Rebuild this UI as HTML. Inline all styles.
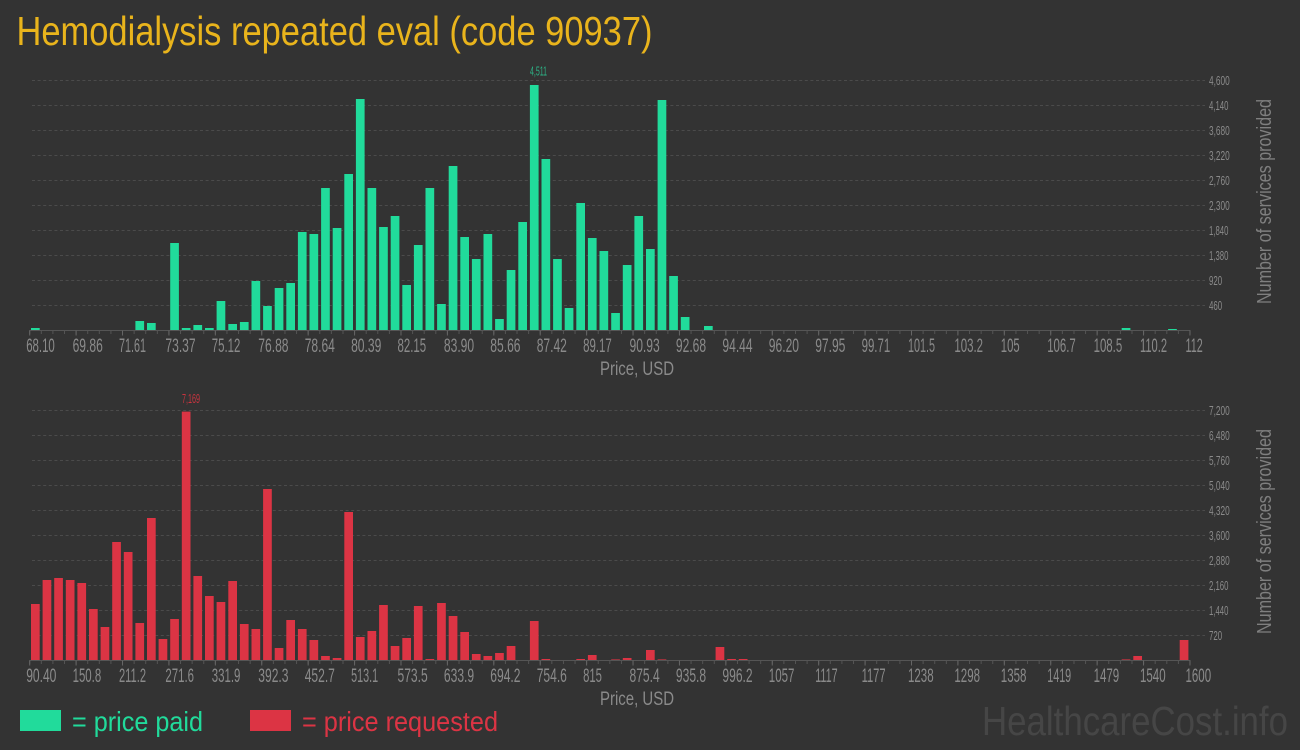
<!DOCTYPE html>
<html><head><meta charset="utf-8"><style>
html,body{margin:0;padding:0;background:#333333;}
svg{display:block;}
text{font-family:"Liberation Sans Narrow","Liberation Sans",sans-serif;}
</style></head><body>
<svg width="1300" height="750" viewBox="0 0 1300 750" xmlns="http://www.w3.org/2000/svg">
<rect width="1300" height="750" fill="#333333"/>
<text x="16.5" y="45" font-size="41" fill="#e9b41c" textLength="636" lengthAdjust="spacingAndGlyphs">Hemodialysis repeated eval (code 90937)</text>

<!-- ===== TOP CHART ===== -->
<g stroke="#4b4b4b" stroke-width="1" stroke-dasharray="3 2.6">
<line x1="32" y1="80.5" x2="1205" y2="80.5"/>
<line x1="32" y1="105.5" x2="1205" y2="105.5"/>
<line x1="32" y1="130.5" x2="1205" y2="130.5"/>
<line x1="32" y1="155.5" x2="1205" y2="155.5"/>
<line x1="32" y1="180.5" x2="1205" y2="180.5"/>
<line x1="32" y1="205.5" x2="1205" y2="205.5"/>
<line x1="32" y1="230.5" x2="1205" y2="230.5"/>
<line x1="32" y1="255.5" x2="1205" y2="255.5"/>
<line x1="32" y1="280.5" x2="1205" y2="280.5"/>
<line x1="32" y1="305.5" x2="1205" y2="305.5"/>
</g>
<g fill="#21db9b">
<rect x="31.0" y="328.0" width="8.7" height="2.3"/>
<rect x="135.4" y="321.0" width="8.7" height="9.3"/>
<rect x="147.0" y="323.0" width="8.7" height="7.3"/>
<rect x="170.2" y="243.0" width="8.7" height="87.3"/>
<rect x="181.8" y="328.0" width="8.7" height="2.3"/>
<rect x="193.4" y="325.0" width="8.7" height="5.3"/>
<rect x="205.0" y="328.0" width="8.7" height="2.3"/>
<rect x="216.6" y="301.0" width="8.7" height="29.3"/>
<rect x="228.3" y="324.0" width="8.7" height="6.3"/>
<rect x="239.9" y="322.0" width="8.7" height="8.3"/>
<rect x="251.5" y="281.0" width="8.7" height="49.3"/>
<rect x="263.1" y="306.0" width="8.7" height="24.3"/>
<rect x="274.7" y="288.0" width="8.7" height="42.3"/>
<rect x="286.3" y="283.0" width="8.7" height="47.3"/>
<rect x="297.9" y="232.0" width="8.7" height="98.3"/>
<rect x="309.5" y="234.0" width="8.7" height="96.3"/>
<rect x="321.1" y="188.0" width="8.7" height="142.3"/>
<rect x="332.7" y="228.0" width="8.7" height="102.3"/>
<rect x="344.3" y="174.0" width="8.7" height="156.3"/>
<rect x="355.9" y="99.0" width="8.7" height="231.3"/>
<rect x="367.5" y="188.0" width="8.7" height="142.3"/>
<rect x="379.1" y="227.0" width="8.7" height="103.3"/>
<rect x="390.7" y="216.0" width="8.7" height="114.3"/>
<rect x="402.3" y="285.0" width="8.7" height="45.3"/>
<rect x="413.9" y="245.0" width="8.7" height="85.3"/>
<rect x="425.5" y="188.0" width="8.7" height="142.3"/>
<rect x="437.1" y="304.0" width="8.7" height="26.3"/>
<rect x="448.7" y="166.0" width="8.7" height="164.3"/>
<rect x="460.3" y="237.0" width="8.7" height="93.3"/>
<rect x="471.9" y="259.0" width="8.7" height="71.3"/>
<rect x="483.5" y="234.0" width="8.7" height="96.3"/>
<rect x="495.1" y="319.0" width="8.7" height="11.3"/>
<rect x="506.7" y="270.0" width="8.7" height="60.3"/>
<rect x="518.3" y="222.0" width="8.7" height="108.3"/>
<rect x="529.9" y="85.0" width="8.7" height="245.3"/>
<rect x="541.5" y="159.0" width="8.7" height="171.3"/>
<rect x="553.1" y="259.0" width="8.7" height="71.3"/>
<rect x="564.7" y="308.0" width="8.7" height="22.3"/>
<rect x="576.3" y="203.0" width="8.7" height="127.3"/>
<rect x="587.9" y="238.0" width="8.7" height="92.3"/>
<rect x="599.5" y="251.0" width="8.7" height="79.3"/>
<rect x="611.2" y="313.0" width="8.7" height="17.3"/>
<rect x="622.8" y="265.0" width="8.7" height="65.3"/>
<rect x="634.4" y="216.0" width="8.7" height="114.3"/>
<rect x="646.0" y="249.0" width="8.7" height="81.3"/>
<rect x="657.6" y="100.0" width="8.7" height="230.3"/>
<rect x="669.2" y="276.0" width="8.7" height="54.3"/>
<rect x="680.8" y="317.0" width="8.7" height="13.3"/>
<rect x="704.0" y="326.0" width="8.7" height="4.3"/>
<rect x="1121.7" y="328.0" width="8.7" height="2.3"/>
<rect x="1168.1" y="329.0" width="8.7" height="1.3"/>
</g>
<text x="538.5" y="75.7" font-size="12.5" fill="#2cb386" text-anchor="middle" textLength="17" lengthAdjust="spacingAndGlyphs">4,511</text>
<line x1="29.2" y1="330.5" x2="1190.5" y2="330.5" stroke="#555" stroke-width="1"/>
<line x1="29.2" y1="332.5" x2="1191" y2="332.5" stroke="#555" stroke-width="3" stroke-dasharray="1 10.603"/>
<line x1="29.2" y1="333" x2="1191" y2="333" stroke="#666" stroke-width="5" stroke-dasharray="1 45.41"/>
<g font-size="19" fill="#8a8a8a" lengthAdjust="spacingAndGlyphs">
<text x="26.2" y="352" textLength="28.6" lengthAdjust="spacingAndGlyphs">68.10</text>
<text x="72.6" y="352" textLength="30.2" lengthAdjust="spacingAndGlyphs">69.86</text>
<text x="119.0" y="352" textLength="27" lengthAdjust="spacingAndGlyphs">71.61</text>
<text x="165.4" y="352" textLength="30.2" lengthAdjust="spacingAndGlyphs">73.37</text>
<text x="211.8" y="352" textLength="28.6" lengthAdjust="spacingAndGlyphs">75.12</text>
<text x="258.3" y="352" textLength="30.2" lengthAdjust="spacingAndGlyphs">76.88</text>
<text x="304.7" y="352" textLength="30.2" lengthAdjust="spacingAndGlyphs">78.64</text>
<text x="351.1" y="352" textLength="30.2" lengthAdjust="spacingAndGlyphs">80.39</text>
<text x="397.5" y="352" textLength="28.6" lengthAdjust="spacingAndGlyphs">82.15</text>
<text x="443.9" y="352" textLength="30.2" lengthAdjust="spacingAndGlyphs">83.90</text>
<text x="490.3" y="352" textLength="30.2" lengthAdjust="spacingAndGlyphs">85.66</text>
<text x="536.7" y="352" textLength="30.2" lengthAdjust="spacingAndGlyphs">87.42</text>
<text x="583.1" y="352" textLength="28.6" lengthAdjust="spacingAndGlyphs">89.17</text>
<text x="629.5" y="352" textLength="30.2" lengthAdjust="spacingAndGlyphs">90.93</text>
<text x="675.9" y="352" textLength="30.2" lengthAdjust="spacingAndGlyphs">92.68</text>
<text x="722.4" y="352" textLength="30.2" lengthAdjust="spacingAndGlyphs">94.44</text>
<text x="768.8" y="352" textLength="30.2" lengthAdjust="spacingAndGlyphs">96.20</text>
<text x="815.2" y="352" textLength="30.2" lengthAdjust="spacingAndGlyphs">97.95</text>
<text x="861.6" y="352" textLength="28.6" lengthAdjust="spacingAndGlyphs">99.71</text>
<text x="908.0" y="352" textLength="27" lengthAdjust="spacingAndGlyphs">101.5</text>
<text x="954.4" y="352" textLength="28.6" lengthAdjust="spacingAndGlyphs">103.2</text>
<text x="1000.8" y="352" textLength="18.8" lengthAdjust="spacingAndGlyphs">105</text>
<text x="1047.2" y="352" textLength="28.6" lengthAdjust="spacingAndGlyphs">106.7</text>
<text x="1093.6" y="352" textLength="28.6" lengthAdjust="spacingAndGlyphs">108.5</text>
<text x="1140.0" y="352" textLength="27" lengthAdjust="spacingAndGlyphs">110.2</text>
<text x="1185.5" y="352" textLength="17.2" lengthAdjust="spacingAndGlyphs">112</text>
</g>
<g font-size="12.5" fill="#8a8a8a">
<text x="1209" y="85" textLength="20.7" lengthAdjust="spacingAndGlyphs">4,600</text>
<text x="1209" y="110" textLength="19.4" lengthAdjust="spacingAndGlyphs">4,140</text>
<text x="1209" y="135" textLength="20.7" lengthAdjust="spacingAndGlyphs">3,680</text>
<text x="1209" y="160" textLength="20.7" lengthAdjust="spacingAndGlyphs">3,220</text>
<text x="1209" y="185" textLength="20.7" lengthAdjust="spacingAndGlyphs">2,760</text>
<text x="1209" y="210" textLength="20.7" lengthAdjust="spacingAndGlyphs">2,300</text>
<text x="1209" y="235" textLength="19.4" lengthAdjust="spacingAndGlyphs">1,840</text>
<text x="1209" y="260" textLength="19.4" lengthAdjust="spacingAndGlyphs">1,380</text>
<text x="1209" y="285" textLength="13.2" lengthAdjust="spacingAndGlyphs">920</text>
<text x="1209" y="310" textLength="13.2" lengthAdjust="spacingAndGlyphs">460</text>
</g>
<text x="600" y="375" font-size="19.5" fill="#8a8a8a" textLength="74" lengthAdjust="spacingAndGlyphs">Price, USD</text>
<text transform="translate(1271,201.5) rotate(-90)" x="0" y="0" font-size="20" fill="#7f7f7f" text-anchor="middle" textLength="205" lengthAdjust="spacingAndGlyphs">Number of services provided</text>

<!-- ===== BOTTOM CHART ===== -->
<g stroke="#4b4b4b" stroke-width="1" stroke-dasharray="3 2.6">
<line x1="32" y1="410.5" x2="1205" y2="410.5"/>
<line x1="32" y1="435.5" x2="1205" y2="435.5"/>
<line x1="32" y1="460.5" x2="1205" y2="460.5"/>
<line x1="32" y1="485.5" x2="1205" y2="485.5"/>
<line x1="32" y1="510.5" x2="1205" y2="510.5"/>
<line x1="32" y1="535.5" x2="1205" y2="535.5"/>
<line x1="32" y1="560.5" x2="1205" y2="560.5"/>
<line x1="32" y1="585.5" x2="1205" y2="585.5"/>
<line x1="32" y1="610.5" x2="1205" y2="610.5"/>
<line x1="32" y1="635.5" x2="1205" y2="635.5"/>
</g>
<g fill="#dc3444">
<rect x="31.0" y="604.0" width="8.7" height="56.3"/>
<rect x="42.6" y="580.0" width="8.7" height="80.3"/>
<rect x="54.2" y="578.0" width="8.7" height="82.3"/>
<rect x="65.8" y="580.0" width="8.7" height="80.3"/>
<rect x="77.4" y="583.0" width="8.7" height="77.3"/>
<rect x="89.0" y="609.0" width="8.7" height="51.3"/>
<rect x="100.6" y="627.0" width="8.7" height="33.3"/>
<rect x="112.2" y="542.0" width="8.7" height="118.3"/>
<rect x="123.8" y="552.0" width="8.7" height="108.3"/>
<rect x="135.4" y="623.0" width="8.7" height="37.3"/>
<rect x="147.0" y="518.0" width="8.7" height="142.3"/>
<rect x="158.6" y="639.0" width="8.7" height="21.3"/>
<rect x="170.2" y="619.0" width="8.7" height="41.3"/>
<rect x="181.8" y="411.6" width="8.7" height="248.7"/>
<rect x="193.4" y="576.0" width="8.7" height="84.3"/>
<rect x="205.0" y="596.0" width="8.7" height="64.3"/>
<rect x="216.6" y="602.0" width="8.7" height="58.3"/>
<rect x="228.3" y="581.0" width="8.7" height="79.3"/>
<rect x="239.9" y="624.0" width="8.7" height="36.3"/>
<rect x="251.5" y="629.0" width="8.7" height="31.3"/>
<rect x="263.1" y="489.0" width="8.7" height="171.3"/>
<rect x="274.7" y="648.0" width="8.7" height="12.3"/>
<rect x="286.3" y="620.0" width="8.7" height="40.3"/>
<rect x="297.9" y="629.0" width="8.7" height="31.3"/>
<rect x="309.5" y="640.0" width="8.7" height="20.3"/>
<rect x="321.1" y="656.0" width="8.7" height="4.3"/>
<rect x="332.7" y="658.0" width="8.7" height="2.3"/>
<rect x="344.3" y="512.0" width="8.7" height="148.3"/>
<rect x="355.9" y="637.0" width="8.7" height="23.3"/>
<rect x="367.5" y="631.0" width="8.7" height="29.3"/>
<rect x="379.1" y="605.0" width="8.7" height="55.3"/>
<rect x="390.7" y="646.0" width="8.7" height="14.3"/>
<rect x="402.3" y="638.0" width="8.7" height="22.3"/>
<rect x="413.9" y="606.0" width="8.7" height="54.3"/>
<rect x="425.5" y="659.0" width="8.7" height="1.3"/>
<rect x="437.1" y="603.0" width="8.7" height="57.3"/>
<rect x="448.7" y="616.0" width="8.7" height="44.3"/>
<rect x="460.3" y="632.0" width="8.7" height="28.3"/>
<rect x="471.9" y="654.0" width="8.7" height="6.3"/>
<rect x="483.5" y="656.0" width="8.7" height="4.3"/>
<rect x="495.1" y="653.0" width="8.7" height="7.3"/>
<rect x="506.7" y="646.0" width="8.7" height="14.3"/>
<rect x="529.9" y="621.0" width="8.7" height="39.3"/>
<rect x="541.5" y="659.0" width="8.7" height="1.3"/>
<rect x="576.3" y="659.0" width="8.7" height="1.3"/>
<rect x="587.9" y="655.0" width="8.7" height="5.3"/>
<rect x="611.2" y="659.4" width="8.7" height="0.9"/>
<rect x="622.8" y="658.0" width="8.7" height="2.3"/>
<rect x="646.0" y="650.0" width="8.7" height="10.3"/>
<rect x="657.6" y="659.4" width="8.7" height="0.9"/>
<rect x="715.6" y="647.0" width="8.7" height="13.3"/>
<rect x="727.2" y="659.0" width="8.7" height="1.3"/>
<rect x="738.8" y="659.0" width="8.7" height="1.3"/>
<rect x="1121.7" y="659.4" width="8.7" height="0.9"/>
<rect x="1133.3" y="656.0" width="8.7" height="4.3"/>
<rect x="1179.7" y="640.0" width="8.7" height="20.3"/>
</g>
<text x="191" y="403" font-size="12.5" fill="#c8343f" text-anchor="middle" textLength="18" lengthAdjust="spacingAndGlyphs">7,169</text>
<line x1="29.2" y1="660.5" x2="1190.5" y2="660.5" stroke="#555" stroke-width="1"/>
<line x1="29.2" y1="662.5" x2="1191" y2="662.5" stroke="#555" stroke-width="3" stroke-dasharray="1 10.603"/>
<line x1="29.2" y1="663" x2="1191" y2="663" stroke="#666" stroke-width="5" stroke-dasharray="1 45.41"/>
<g font-size="19" fill="#8a8a8a">
<text x="26.2" y="682" textLength="30.2" lengthAdjust="spacingAndGlyphs">90.40</text>
<text x="72.6" y="682" textLength="28.6" lengthAdjust="spacingAndGlyphs">150.8</text>
<text x="119.0" y="682" textLength="27" lengthAdjust="spacingAndGlyphs">211.2</text>
<text x="165.4" y="682" textLength="28.6" lengthAdjust="spacingAndGlyphs">271.6</text>
<text x="211.8" y="682" textLength="28.6" lengthAdjust="spacingAndGlyphs">331.9</text>
<text x="258.3" y="682" textLength="30.2" lengthAdjust="spacingAndGlyphs">392.3</text>
<text x="304.7" y="682" textLength="30.2" lengthAdjust="spacingAndGlyphs">452.7</text>
<text x="351.1" y="682" textLength="27" lengthAdjust="spacingAndGlyphs">513.1</text>
<text x="397.5" y="682" textLength="30.2" lengthAdjust="spacingAndGlyphs">573.5</text>
<text x="443.9" y="682" textLength="30.2" lengthAdjust="spacingAndGlyphs">633.9</text>
<text x="490.3" y="682" textLength="30.2" lengthAdjust="spacingAndGlyphs">694.2</text>
<text x="536.7" y="682" textLength="30.2" lengthAdjust="spacingAndGlyphs">754.6</text>
<text x="583.1" y="682" textLength="18.8" lengthAdjust="spacingAndGlyphs">815</text>
<text x="629.5" y="682" textLength="30.2" lengthAdjust="spacingAndGlyphs">875.4</text>
<text x="675.9" y="682" textLength="30.2" lengthAdjust="spacingAndGlyphs">935.8</text>
<text x="722.4" y="682" textLength="30.2" lengthAdjust="spacingAndGlyphs">996.2</text>
<text x="768.8" y="682" textLength="25.6" lengthAdjust="spacingAndGlyphs">1057</text>
<text x="815.2" y="682" textLength="22.4" lengthAdjust="spacingAndGlyphs">1117</text>
<text x="861.6" y="682" textLength="24" lengthAdjust="spacingAndGlyphs">1177</text>
<text x="908.0" y="682" textLength="25.6" lengthAdjust="spacingAndGlyphs">1238</text>
<text x="954.4" y="682" textLength="25.6" lengthAdjust="spacingAndGlyphs">1298</text>
<text x="1000.8" y="682" textLength="25.6" lengthAdjust="spacingAndGlyphs">1358</text>
<text x="1047.2" y="682" textLength="24" lengthAdjust="spacingAndGlyphs">1419</text>
<text x="1093.6" y="682" textLength="25.6" lengthAdjust="spacingAndGlyphs">1479</text>
<text x="1140.0" y="682" textLength="25.6" lengthAdjust="spacingAndGlyphs">1540</text>
<text x="1185.5" y="682" textLength="25.6" lengthAdjust="spacingAndGlyphs">1600</text>
</g>
<g font-size="12.5" fill="#8a8a8a">
<text x="1209" y="415" textLength="20.7" lengthAdjust="spacingAndGlyphs">7,200</text>
<text x="1209" y="440" textLength="20.7" lengthAdjust="spacingAndGlyphs">6,480</text>
<text x="1209" y="465" textLength="20.7" lengthAdjust="spacingAndGlyphs">5,760</text>
<text x="1209" y="490" textLength="20.7" lengthAdjust="spacingAndGlyphs">5,040</text>
<text x="1209" y="515" textLength="20.7" lengthAdjust="spacingAndGlyphs">4,320</text>
<text x="1209" y="540" textLength="20.7" lengthAdjust="spacingAndGlyphs">3,600</text>
<text x="1209" y="565" textLength="20.7" lengthAdjust="spacingAndGlyphs">2,880</text>
<text x="1209" y="590" textLength="19.4" lengthAdjust="spacingAndGlyphs">2,160</text>
<text x="1209" y="615" textLength="19.4" lengthAdjust="spacingAndGlyphs">1,440</text>
<text x="1209" y="640" textLength="13.2" lengthAdjust="spacingAndGlyphs">720</text>
</g>
<text x="600" y="705" font-size="19.5" fill="#8a8a8a" textLength="74" lengthAdjust="spacingAndGlyphs">Price, USD</text>
<text transform="translate(1271,531.5) rotate(-90)" x="0" y="0" font-size="20" fill="#7f7f7f" text-anchor="middle" textLength="205" lengthAdjust="spacingAndGlyphs">Number of services provided</text>

<!-- ===== LEGEND ===== -->
<rect x="20" y="710" width="41" height="21" fill="#21db9b"/>
<text x="72" y="731" font-size="28" fill="#21db9b" textLength="131" lengthAdjust="spacingAndGlyphs">= price paid</text>
<rect x="250" y="710" width="41" height="21" fill="#dc3444"/>
<text x="302" y="731" font-size="28" fill="#dc3444" textLength="196" lengthAdjust="spacingAndGlyphs">= price requested</text>
<text x="982" y="735" font-size="41" fill="#464646" textLength="306" lengthAdjust="spacingAndGlyphs">HealthcareCost.info</text>
</svg>
</body></html>
